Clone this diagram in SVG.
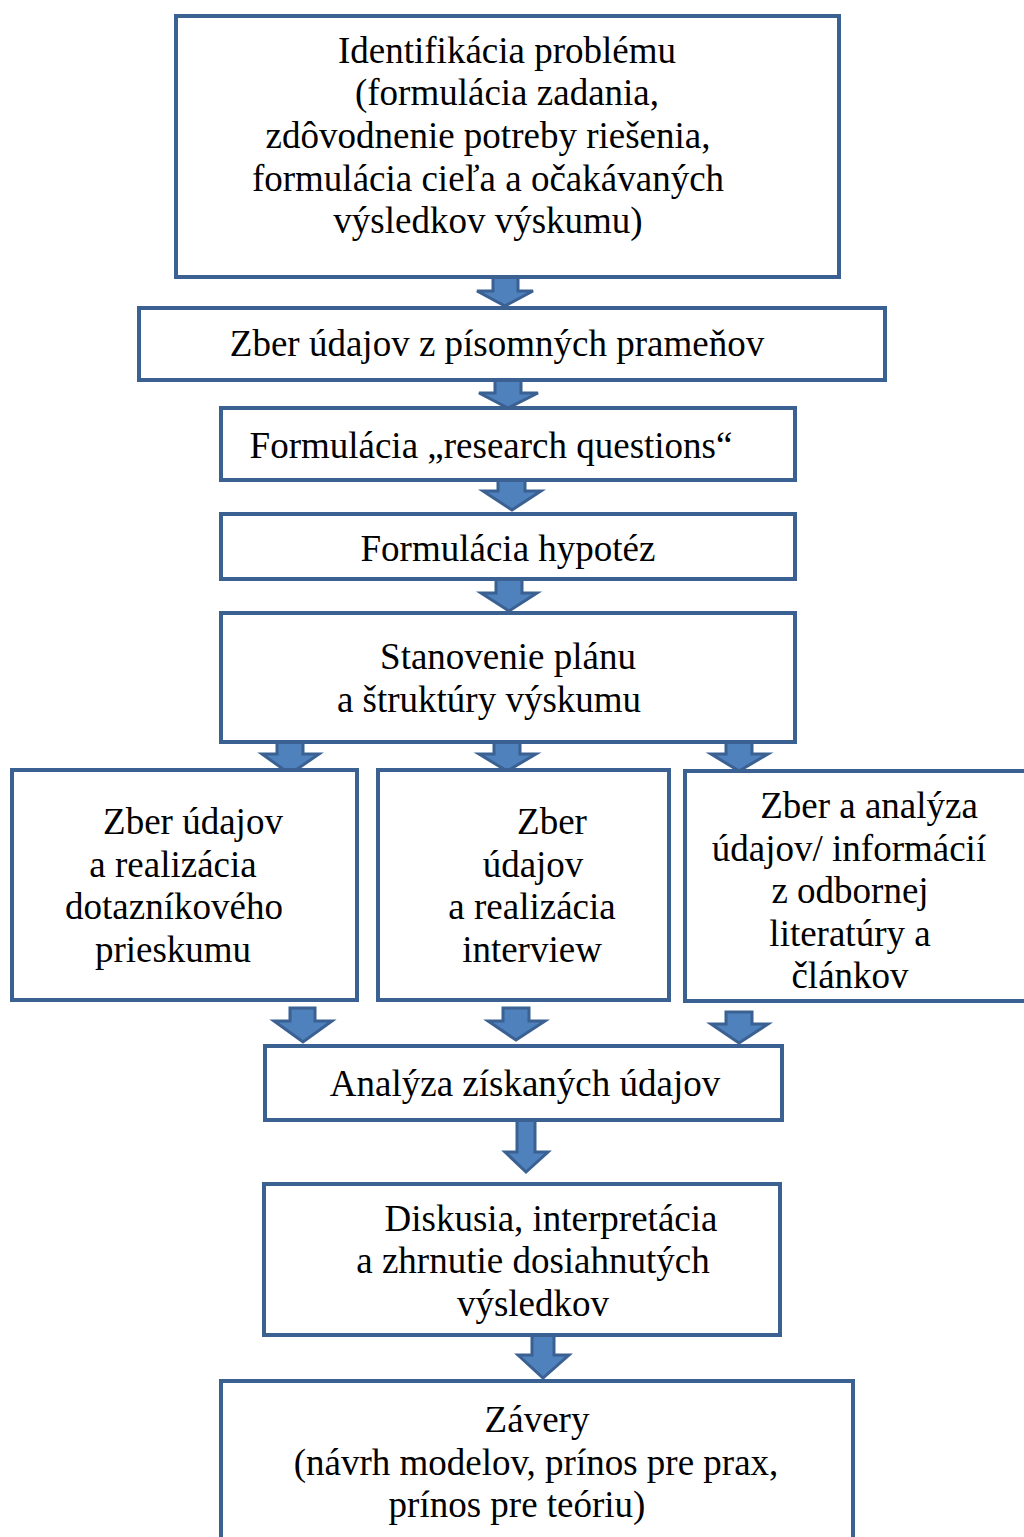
<svg xmlns="http://www.w3.org/2000/svg" width="1024" height="1537" viewBox="0 0 1024 1537">
<style>
.box{fill:#ffffff;stroke:#3b6193;stroke-width:4}
.arr{fill:#4f81bd;stroke:#3b6193;stroke-width:3;stroke-linejoin:miter}
text{font-family:"Liberation Serif","Times New Roman",serif;font-size:37px;fill:#000;text-anchor:middle}
</style>
<rect width="1024" height="1537" fill="#ffffff"/>
<g id="connectors">
<path class="arr" d="M493,277 V291 H477 L505,306 L533,291 H518 V277 Z"/>
<path class="arr" d="M495,380 V393 H479 L508,408 L538,393 H521 V380 Z"/>
<path class="arr" d="M498,480 V491 H483 L512,510 L541,491 H525 V480 Z"/>
<path class="arr" d="M496,579 V593 H481 L509,611 L537,593 H522 V579 Z"/>
<path class="arr" d="M277,742 V754 H262 L290,774 L319,754 H303 V742 Z"/>
<path class="arr" d="M494,742 V754 H479 L507,771 L536,754 H520 V742 Z"/>
<path class="arr" d="M726,742 V754 H711 L739,771 L768,754 H752 V742 Z"/>
<path class="arr" d="M290,1008 V1021 H274 L303,1042 L332,1021 H315 V1008 Z"/>
<path class="arr" d="M503,1008 V1021 H488 L516,1040 L545,1021 H529 V1008 Z"/>
<path class="arr" d="M726,1012 V1024 H711 L739,1043 L768,1024 H752 V1012 Z"/>
<path class="arr" d="M517,1120 V1152 H505 L526,1172 L548,1152 H535 V1120 Z"/>
<path class="arr" d="M532,1335 V1355 H518 L543,1378 L569,1355 H554 V1335 Z"/>
</g>
<g id="n1"><rect class="box" x="176" y="16" width="663" height="261"/>
<text x="507" y="63">Identifikácia problému</text>
<text x="507" y="105">(formulácia zadania,</text>
<text x="488" y="148">zdôvodnenie potreby riešenia,</text>
<text x="488" y="191">formulácia cieľa a očakávaných</text>
<text x="488" y="233">výsledkov výskumu)</text></g>
<g id="n2"><rect class="box" x="139" y="308" width="746" height="72"/>
<text x="497" y="356">Zber údajov z písomných prameňov</text></g>
<g id="n3"><rect class="box" x="221" y="408" width="574" height="72"/>
<text x="491" y="458">Formulácia „research questions“</text></g>
<g id="n4"><rect class="box" x="221" y="514" width="574" height="65"/>
<text x="508" y="561">Formulácia hypotéz</text></g>
<g id="n5"><rect class="box" x="221" y="613" width="574" height="129"/>
<text x="508" y="669">Stanovenie plánu</text>
<text x="489" y="712">a štruktúry výskumu</text></g>
<g id="n6a"><rect class="box" x="12" y="770" width="345" height="230"/>
<text x="193" y="834">Zber údajov</text>
<text x="173" y="877">a realizácia</text>
<text x="174" y="919">dotazníkového</text>
<text x="173" y="962">prieskumu</text></g>
<g id="n6b"><rect class="box" x="378" y="770" width="291" height="230"/>
<text x="552" y="834">Zber</text>
<text x="533" y="877">údajov</text>
<text x="532" y="919">a realizácia</text>
<text x="532" y="962">interview</text></g>
<g id="n6c"><rect class="box" x="685" y="771" width="345" height="230"/>
<text x="869" y="818">Zber a analýza</text>
<text x="849" y="861">údajov/ informácií</text>
<text x="850" y="903">z odbornej</text>
<text x="850" y="946">literatúry a</text>
<text x="850" y="988">článkov</text></g>
<g id="n7"><rect class="box" x="265" y="1046" width="517" height="74"/>
<text x="525" y="1096">Analýza získaných údajov</text></g>
<g id="n8"><rect class="box" x="264" y="1184" width="516" height="151"/>
<text x="551" y="1231">Diskusia, interpretácia</text>
<text x="533" y="1273">a zhrnutie dosiahnutých</text>
<text x="533" y="1316">výsledkov</text></g>
<g id="n9"><rect class="box" x="221" y="1381" width="632" height="170"/>
<text x="537" y="1432">Závery</text>
<text x="536" y="1475">(návrh modelov, prínos pre prax,</text>
<text x="517" y="1517">prínos pre teóriu)</text></g>
</svg>
